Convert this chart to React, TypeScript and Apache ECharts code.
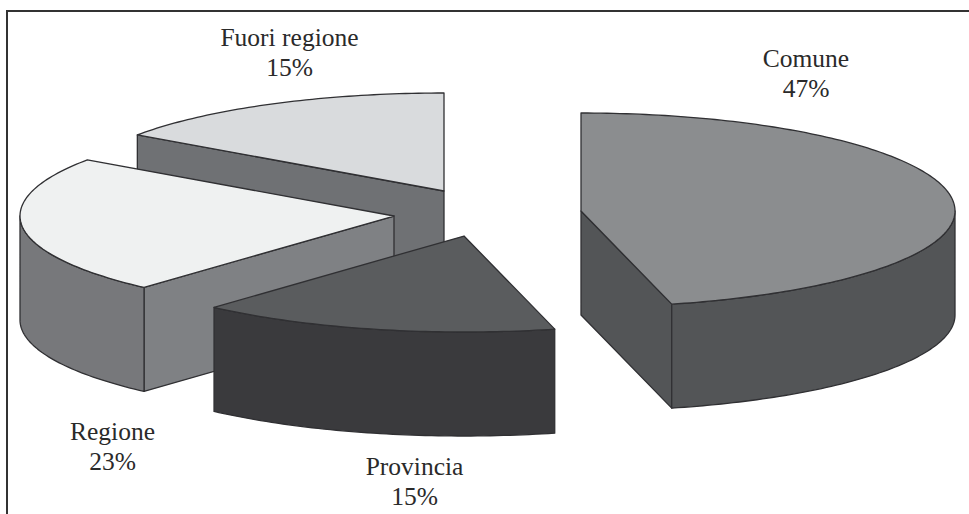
import React, { useEffect, useRef } from "react";
import * as echarts from "echarts";

// ---- data ----
const categories = ["Comune", "Provincia", "Regione", "Fuori regione"];
const percentLabels = ["47%", "15%", "23%", "15%"];
// shares of the circle
const sliceShares = [46.1, 15.55, 23.05, 15.3];

// ---- layout and style ----
const W = 969;
const H = 514;
const centerX = 470;
const centerY = 213;
const radiusX = 374;
const radiusYBack = 98;
const radiusYFront = 96;
const depth = 104;
const explodeX = [111, -6, -76, -26];
const explodeY = [-2, 23, 3, -22];
const topColors = ["#8b8d8f", "#5a5c5e", "#eff1f1", "#d9dbdd"];
const rimColors = ["#535557", "#3a3a3d", "#77787b", "#6f7174"];
const wallColors = ["#535557", "#3a3a3d", "#7f8184", "#6f7174"];
const labelX = [806, 414.5, 112.5, 289.5];
const labelY = [71, 479, 444, 50];
const lineGap = 30;
const paintOrder = [3, 2, 1, 0];
const edge = "#303033";
const FONT = '"Liberation Serif", serif';

const totalShare = sliceShares.reduce((a, b) => a + b, 0);
const startAngles: number[] = [];
sliceShares.reduce((sum, v, i) => {
  startAngles[i] = (sum / totalShare) * 360;
  return sum + v;
}, 0);
const seriesData = paintOrder.map((i) => [
  i,
  startAngles[i],
  startAngles[i] + (sliceShares[i] / totalShare) * 360,
]);

const rad = (d: number) => (d * Math.PI) / 180;

function renderSlice(_params: any, api: any) {
  const i = api.value(0) as number;
  const a0 = api.value(1) as number;
  const a1 = api.value(2) as number;
  const ax = centerX + explodeX[i];
  const ay = centerY + explodeY[i];
  const pt = (deg: number, dy = 0): number[] => {
    const c = Math.cos(rad(deg));
    return [
      ax + radiusX * Math.sin(rad(deg)),
      ay - (c > 0 ? radiusYBack : radiusYFront) * c + dy,
    ];
  };
  const arc = (from: number, to: number, dy = 0) => {
    const n = Math.max(2, Math.ceil(Math.abs(to - from)));
    const out: number[][] = [];
    for (let k = 0; k <= n; k++) out.push(pt(from + ((to - from) * k) / n, dy));
    return out;
  };
  const shapeStyle = (fill: string) => ({
    fill,
    stroke: edge,
    lineWidth: 1.3,
    lineJoin: "round",
  });
  const children: any[] = [];
  const wall = (deg: number) => ({
    type: "polygon",
    shape: { points: [[ax, ay], pt(deg), pt(deg, depth), [ax, ay + depth]] },
    style: shapeStyle(wallColors[i]),
  });
  if (Math.sin(rad(a0)) < -1e-6) children.push(wall(a0));
  if (Math.sin(rad(a1)) > 1e-6) children.push(wall(a1));
  const r0 = Math.max(a0, 90);
  const r1 = Math.min(a1, 270);
  if (r1 > r0) {
    children.push({
      type: "polygon",
      shape: { points: [...arc(r0, r1), ...arc(r1, r0, depth)] },
      style: shapeStyle(rimColors[i]),
    });
  }
  children.push({
    type: "polygon",
    shape: { points: [[ax, ay], ...arc(a0, a1)] },
    style: shapeStyle(topColors[i]),
  });
  [categories[i], percentLabels[i]].forEach((text, line) => {
    children.push({
      type: "text",
      style: {
        x: labelX[i],
        y: labelY[i] + line * lineGap,
        text,
        fill: "#2a2a2a",
        font: `25.5px ${FONT}`,
        textAlign: "center",
        textVerticalAlign: "bottom",
        verticalAlign: "bottom",
      },
    });
  });
  return { type: "group", children };
}

export default function App() {
  const ref = useRef<HTMLDivElement>(null);
  useEffect(() => {
    const chart = echarts.init(ref.current!, undefined, { renderer: "svg" });
    chart.setOption({
      animation: false,
      backgroundColor: "#ffffff",
      graphic: [
        {
          type: "polyline",
          shape: { points: [[7, H], [7, 11], [W, 11]] },
          style: { fill: "none", stroke: "#333333", lineWidth: 2 },
        },
      ],
      series: [
        {
          type: "custom",
          coordinateSystem: "none",
          silent: true,
          clip: false,
          renderItem: renderSlice,
          data: seriesData,
        },
      ],
    });
    return () => chart.dispose();
  }, []);
  return (
    <div
      ref={ref}
      style={{ position: "absolute", left: 0, top: 0, width: W, height: H }}
    />
  );
}
